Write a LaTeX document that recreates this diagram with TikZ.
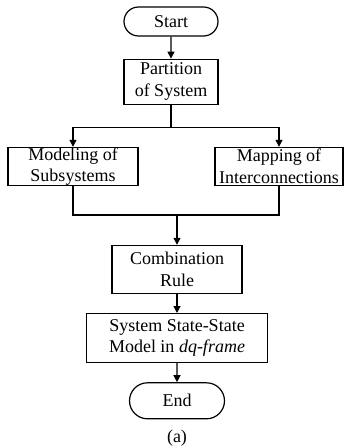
\documentclass[tikz,border=0pt]{standalone}
\usepackage{fontspec}
\setmainfont{Liberation Serif}
\usetikzlibrary{arrows.meta,positioning,shapes.misc}

\begin{document}
\begin{tikzpicture}[
  term/.style={draw, rounded rectangle, line width=1.2pt, align=center, inner sep=0pt, minimum width=94pt, font=\fontsize{18}{21.5}\selectfont},
  box/.style={draw, line width=1.2pt, align=center, inner sep=0pt, font=\fontsize{18}{21.5}\selectfont},
  note/.style={align=center, inner sep=0pt, font=\fontsize{18}{21.5}\selectfont},
  arr/.style={-{Triangle[length=7pt,width=7pt]}, line width=1.2pt},
  ln/.style={line width=1.2pt}
]
\useasboundingbox (0,0) rectangle (344pt,-447pt);

\node[term, minimum height=29pt] (start) at (171pt,-21.5pt) {Start};
\node[box, minimum width=94pt, minimum height=45pt, below=22pt of start] (part) {Partition\\of System};
\node[box, minimum width=130pt, minimum height=38pt, below=42pt of part, xshift=-98pt] (model) {Modeling of\\Subsystems};
\node[box, minimum width=128pt, minimum height=38pt, below=42pt of part, xshift=108pt] (map) {Mapping of\\Interconnections};
\node[box, minimum width=130pt, minimum height=48pt, below=140pt of part, xshift=6pt] (comb) {Combination\\Rule};
\node[box, minimum width=181pt, minimum height=49pt, below=19pt of comb] (sss) {System State-State\\Model in \textit{dq-frame}};
\node[term, minimum width=95pt, minimum height=36pt, below=19pt of sss] (end) {End};
\node[note, below=10pt of end] (cap) {(a)};

\coordinate[below=23pt of part] (split);
\coordinate[below=29pt of model] (mjoin);

\draw[arr] (start) -- (part);
\draw[ln] (part) -- (split);
\draw[arr] (split) -| (model);
\draw[arr] (split) -| (map);
\draw[ln] (model) -- (mjoin) -| (map);
\draw[arr] (mjoin -| comb) -- (comb);
\draw[arr] (comb) -- (sss);
\draw[arr] (sss) -- (end);

\end{tikzpicture}
\end{document}
